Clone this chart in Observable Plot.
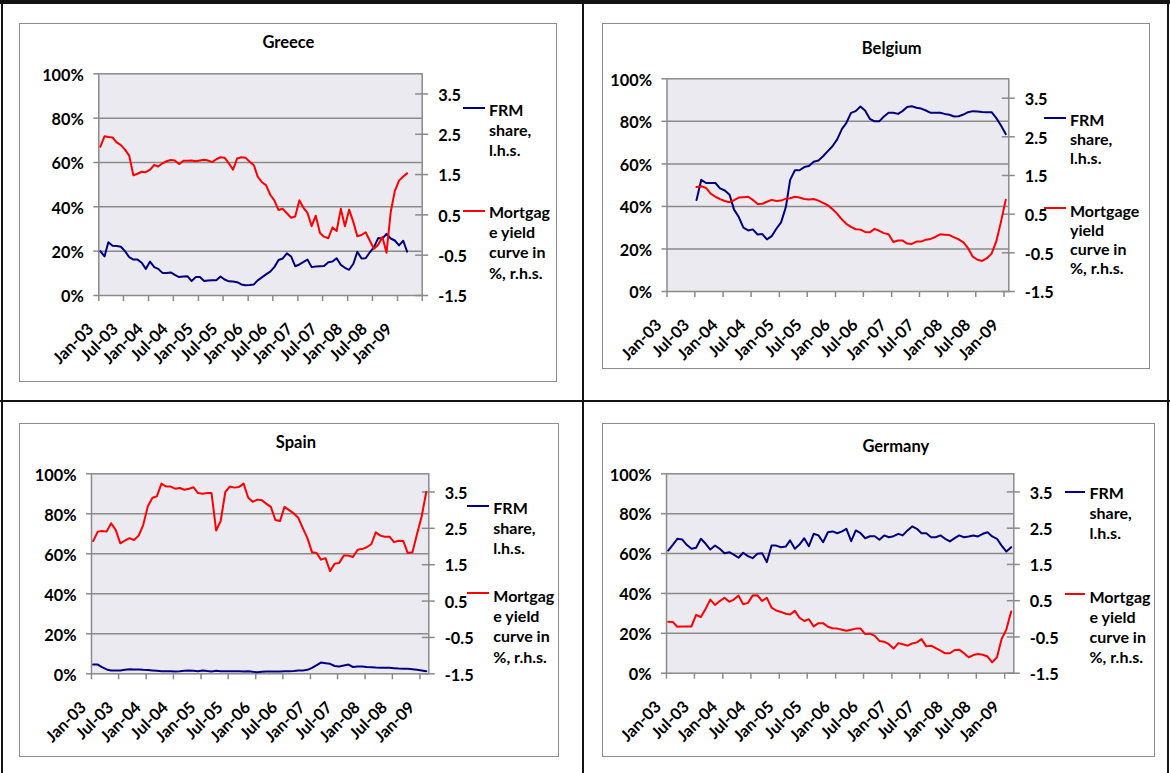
<!DOCTYPE html>
<html><head><meta charset="utf-8">
<script src="https://cdn.jsdelivr.net/npm/d3@7"></script>
<script src="https://cdn.jsdelivr.net/npm/@observablehq/plot@0.6"></script>
<style>
body{margin:0;background:#fff;}
#page{position:relative;width:1170px;height:773px;overflow:hidden;font-family:Lato,"DejaVu Sans",sans-serif;font-weight:bold;color:#000;background:#fff;}
.bar{position:absolute;background:#141414;}
.box{position:absolute;border:1.5px solid #8c8c8c;box-sizing:border-box;}
.plot{position:absolute;}
.title{position:absolute;font-size:16.5px;transform:translate(-50%,-50%);white-space:nowrap;}
.leg{position:absolute;font-size:16px;white-space:nowrap;}
.sw{position:absolute;height:2px;}
</style></head><body><div id="page"></div>
<script>
// ---------- data (monthly, index 0 = first month of series) ----------
const xLabels = ["Jan-03","Jul-03","Jan-04","Jul-04","Jan-05","Jul-05","Jan-06","Jul-06","Jan-07","Jul-07","Jan-08","Jul-08","Jan-09"];
const leftTicks = [0, 20, 40, 60, 80, 100];
const rightTicks = [-1.5, -0.5, 0.5, 1.5, 2.5, 3.5];
const rightDomain = [-1.5, 4.0];

// Greece: Jan-03 .. Mar-09
const greeceFRM = [20,17.6,24,22.4,22.3,22,20,17.3,16.2,16.2,14.8,12,15.3,12.8,12,10.2,10.2,10.4,9.3,8.3,8.6,8.7,6.5,8.3,8.3,6.5,6.8,6.9,6.9,8.6,7.2,6.4,6.3,6.0,5,4.6,4.7,5,6.8,8.2,9.5,10.8,12.8,16,16.7,19,17.6,13.2,14,15.2,16.2,12.8,13.1,13.2,13.3,15,15.3,16.8,13.8,12.5,11.6,14.3,19.7,16.7,16.8,19.5,21.8,25.9,25.7,27.8,25.7,24.8,22.6,24.7,19.8];
const greeceYield = [2.19,2.45,2.43,2.42,2.3,2.23,2.12,1.97,1.48,1.52,1.57,1.56,1.62,1.74,1.70,1.78,1.83,1.86,1.85,1.76,1.84,1.84,1.85,1.83,1.85,1.87,1.85,1.81,1.88,1.93,1.92,1.78,1.62,1.90,1.93,1.92,1.82,1.73,1.45,1.31,1.24,1.0,0.86,0.62,0.65,0.54,0.43,0.46,0.86,0.67,0.55,0.22,0.48,0.05,-0.04,-0.08,0.19,0.10,0.65,0.22,0.63,0.32,-0.03,0.0,0.07,-0.14,-0.34,-0.24,-0.05,-0.44,0.57,1.09,1.35,1.45,1.53];

// Belgium: Jul-03 .. Jan-09
const belgiumFRM = [43,52.5,51,51,51,48.5,47.5,45.5,38.5,35,30,28.7,29.2,26.8,27,24.5,26,29.5,32.5,39.7,52.5,57,57,58.5,59,61,61.6,63.6,66,68.3,71.5,76.5,79.2,84,84.8,87,85.1,81.2,80,80,82.3,84,84,83.5,84.8,86.7,87.1,86.4,86,85.1,84,84,84,83.5,83.1,82.3,82.4,83.2,84.3,84.8,84.6,84.4,84.3,84.3,81.5,78,74];
const belgiumYield = [1.20,1.22,1.18,1.03,0.95,0.89,0.84,0.81,0.86,0.93,0.94,0.95,0.87,0.76,0.77,0.82,0.87,0.84,0.85,0.90,0.91,0.95,0.93,0.89,0.88,0.89,0.85,0.79,0.73,0.63,0.51,0.36,0.25,0.17,0.11,0.10,0.04,0.03,0.12,0.07,0.01,-0.02,-0.22,-0.18,-0.18,-0.26,-0.27,-0.21,-0.21,-0.16,-0.14,-0.09,-0.02,-0.03,-0.04,-0.10,-0.15,-0.23,-0.38,-0.60,-0.68,-0.71,-0.64,-0.52,-0.2,0.3,0.87];

// Spain: Jan-03 .. Feb-09
const spainFRM = [4.7,4.6,3.3,2.2,1.7,1.7,1.7,2.0,2.3,2.2,2.2,2.0,1.9,1.7,1.5,1.3,1.3,1.3,1.2,1.3,1.5,1.7,1.5,1.3,1.7,1.4,1.2,1.5,1.3,1.3,1.3,1.3,1.3,1.2,1.3,1.0,0.8,1.0,1.2,1.2,1.2,1.2,1.3,1.3,1.4,1.6,1.7,2.0,3.0,4.3,5.6,5.3,5.0,3.9,3.7,4.2,4.6,3.4,3.7,3.7,3.4,3.3,3.1,3.0,3.0,3.0,2.8,2.6,2.5,2.5,2.3,2.0,1.7,1.3];
const spainYield = [2.15,2.41,2.43,2.41,2.64,2.45,2.09,2.16,2.23,2.18,2.30,2.59,3.11,3.34,3.38,3.73,3.65,3.65,3.59,3.61,3.56,3.59,3.63,3.47,3.45,3.47,3.47,2.44,2.7,3.5,3.65,3.62,3.64,3.73,3.34,3.23,3.29,3.27,3.18,3.09,2.73,2.7,3.09,3.0,2.91,2.79,2.5,2.23,1.84,1.82,1.64,1.68,1.32,1.53,1.55,1.75,1.75,1.71,1.91,1.93,1.98,2.07,2.39,2.3,2.27,2.27,2.12,2.16,2.15,1.82,1.84,2.34,2.82,3.5];

// Germany: Jan-03 .. Feb-09
const germanyFRM = [61.5,64.5,67.4,67.1,64.4,62.4,62.9,67.4,64.9,62,64,62.4,60.2,60.7,59.5,57.9,60.4,58.7,57.7,59.9,60.2,55.7,64,64,63.2,63.5,66.6,62.4,64.5,67.7,63.7,69.9,69.1,65.7,70.7,71.1,70.2,71.1,72.4,66.2,71.6,70.2,67.7,68.7,68.7,66.9,69.1,68.2,68.7,69.9,69.1,71.6,73.6,72.4,70.2,70.2,68.2,68.2,69.1,67.4,66.1,67.7,69.1,68.2,68.6,69.1,68.6,69.9,70.7,68.6,67.4,64,61,63.2];
const germanyYield = [-0.08,-0.09,-0.22,-0.21,-0.21,-0.21,0.11,0.05,0.28,0.53,0.38,0.49,0.58,0.47,0.53,0.64,0.40,0.44,0.64,0.65,0.49,0.58,0.31,0.23,0.19,0.14,0.12,0.22,0.03,-0.06,-0.01,-0.21,-0.12,-0.12,-0.22,-0.26,-0.27,-0.30,-0.33,-0.30,-0.27,-0.27,-0.42,-0.41,-0.47,-0.61,-0.63,-0.70,-0.82,-0.67,-0.70,-0.74,-0.68,-0.65,-0.56,-0.76,-0.74,-0.81,-0.88,-0.95,-0.95,-0.86,-0.85,-0.95,-1.06,-1.0,-0.97,-0.99,-1.04,-1.2,-1.06,-0.56,-0.29,0.2];

const legendFRM = ["FRM", "share,", "l.h.s."];
const legendYieldA = ["Mortgag", "e yield", "curve in", "%, r.h.s."];
const legendYieldB = ["Mortgage", "yield", "curve in", "%, r.h.s."];

// ---------- styling ----------
const BG = "#ECEAF1", GRID = "#8a8a8a", BLUE = "#000080", RED = "#ff0000";
const FONT = "Lato, 'DejaVu Sans', sans-serif";
const toLeft = v => (v - rightDomain[0]) / (rightDomain[1] - rightDomain[0]) * 100;
const page = document.getElementById("page");

function el(cls, css, html) {
  const d = document.createElement("div");
  d.className = cls;
  Object.assign(d.style, css);
  if (html != null) d.innerHTML = html;
  page.appendChild(d);
  return d;
}

// table borders
el("bar", {left: "0px", top: "0px", width: "1170px", height: "3.5px"});
el("bar", {left: "1px", top: "0px", width: "1.5px", height: "773px"});
el("bar", {left: "582px", top: "0px", width: "1.5px", height: "773px"});
el("bar", {left: "1167px", top: "0px", width: "1.5px", height: "773px"});
el("bar", {left: "0px", top: "400px", width: "1170px", height: "1.5px"});

function panel(cfg) {
  el("box", {left: cfg.box[0] + "px", top: cfg.box[1] + "px", width: (cfg.box[2] - cfg.box[0]) + "px", height: (cfg.box[3] - cfg.box[1]) + "px"});
  const rows = (arr) => arr.map((v, i) => ({date: new Date(Date.UTC(2003, cfg.start + i, 12)), v}));
  const frmRows = rows(cfg.frm), ycRows = rows(cfg.yc);
  const x0 = new Date(Date.UTC(2003, 0, 1));
  const x1 = cfg.xEnd;
  const xTicks = d3.range(cfg.nTicks).map(i => new Date(Date.UTC(2003 + Math.floor(i / 2), (i % 2) * 6, 1)));
  const chart = Plot.plot({
    width: cfg.w, height: cfg.h,
    marginLeft: cfg.ml, marginRight: cfg.mr, marginTop: cfg.mt, marginBottom: cfg.mb,
    style: {fontFamily: FONT, fontWeight: "bold", fontSize: "16.3px", background: "transparent", color: "#000", overflow: "visible"},
    x: {type: "utc", domain: [x0, x1], axis: null},
    y: {domain: [0, 100], axis: null},
    marks: [
      Plot.frame({fill: BG}),
      Plot.ruleY([20, 40, 60, 80], {y: d => d, stroke: GRID, strokeWidth: 1.5}),
      Plot.frame({stroke: GRID, strokeWidth: 1.5}),
      Plot.ruleY(leftTicks, {y: d => d, x1: () => x0, x2: () => x0, insetLeft: -5, stroke: GRID, strokeWidth: 1.5}),
      Plot.ruleY(rightTicks, {y: d => toLeft(d), x1: () => x1, x2: () => x1, insetLeft: -6.5, insetRight: -6.5, stroke: GRID, strokeWidth: 1.5}),
      Plot.ruleX(xTicks, {x: d => d, y1: () => 0, y2: () => 0, insetBottom: -6, stroke: GRID, strokeWidth: 1.5}),
      Plot.text(leftTicks, {y: d => d, frameAnchor: "left", textAnchor: "end", dx: -15, dy: 1.5, text: d => d + "%", fill: "#000"}),
      Plot.text(rightTicks, {y: d => toLeft(d), frameAnchor: "right", textAnchor: "start", dx: 16, dy: 1.5, text: d => String(d), fill: "#000"}),
      Plot.text(xLabels, {x: (d, i) => xTicks[i], y: () => 0, text: d => d, rotate: -45, textAnchor: "end", dx: -8, dy: 31, fill: "#000"}),
      Plot.line(frmRows, {x: "date", y: "v", stroke: BLUE, strokeWidth: 2}),
      Plot.line(ycRows, {x: "date", y: d => toLeft(d.v), stroke: RED, strokeWidth: 2})
    ]
  });
  const holder = el("plot", {left: cfg.pos[0] + "px", top: cfg.pos[1] + "px"});
  holder.appendChild(chart);

  el("title", {left: cfg.title[1] + "px", top: cfg.title[2] + "px"}, cfg.title[0]);
  const L = cfg.legend;
  el("sw", {left: L.sx0 + "px", width: (L.sx1 - L.sx0) + "px", top: (L.b - 1) + "px", background: BLUE});
  el("sw", {left: L.sx0 + "px", width: (L.sx1 - L.sx0) + "px", top: (L.r - 1) + "px", background: RED});
  el("leg", {left: L.tx + "px", top: (L.bt - L.lh / 2) + "px", lineHeight: L.lh + "px"}, legendFRM.join("<br>"));
  el("leg", {left: L.tx + "px", top: (L.rt - L.lh / 2) + "px", lineHeight: L.lh + "px"}, L.yText.join("<br>"));
}

panel({
  pos: [0, 0], w: 585, h: 400, ml: 98.3, mr: 163.3, mt: 73.3, mb: 105,
  box: [19.4, 22.7, 556.7, 381.7],
  start: 0, xEnd: new Date(Date.UTC(2009, 6, 1)), nTicks: 14,
  frm: greeceFRM, yc: greeceYield,
  title: ["Greece", 288.4, 41.7],
  legend: {sx0: 462.7, sx1: 485, b: 108.3, r: 211, tx: 489, bt: 110, rt: 212, lh: 20.2, yText: legendYieldA}
});
panel({
  pos: [585, 0], w: 585, h: 400, ml: 81.5, mr: 161.7, mt: 78.3, mb: 109,
  box: [601.8, 22.7, 1150.3, 369.3],
  start: 6, xEnd: new Date(Date.UTC(2009, 1, 1)), nTicks: 13,
  frm: belgiumFRM, yc: belgiumYield,
  title: ["Belgium", 891.7, 47.7],
  legend: {sx0: 1044, sx1: 1066, b: 118.3, r: 208.3, tx: 1070, bt: 119, rt: 210, lh: 19, yText: legendYieldB}
});
panel({
  pos: [0, 400], w: 585, h: 373, ml: 91, mr: 156.7, mt: 73.3, mb: 99.7,
  box: [19.4, 422.7, 558.6, 757.3],
  start: 0, xEnd: new Date(Date.UTC(2009, 2, 1)), nTicks: 13,
  frm: spainFRM, yc: spainYield,
  title: ["Spain", 295.9, 441.7],
  legend: {sx0: 467, sx1: 489, b: 506, r: 593.3, tx: 493.3, bt: 507.7, rt: 596, lh: 20.2, yText: legendYieldA}
});
panel({
  pos: [585, 400], w: 585, h: 373, ml: 81, mr: 156.7, mt: 73.3, mb: 100.3,
  box: [601.8, 422.7, 1154.8, 757.3],
  start: 0, xEnd: new Date(Date.UTC(2009, 2, 1)), nTicks: 13,
  frm: germanyFRM, yc: germanyYield,
  title: ["Germany", 895.8, 446],
  legend: {sx0: 1064.5, sx1: 1085, b: 491.7, r: 594.3, tx: 1089.5, bt: 493, rt: 597, lh: 20, yText: legendYieldA}
});
</script></body></html>
